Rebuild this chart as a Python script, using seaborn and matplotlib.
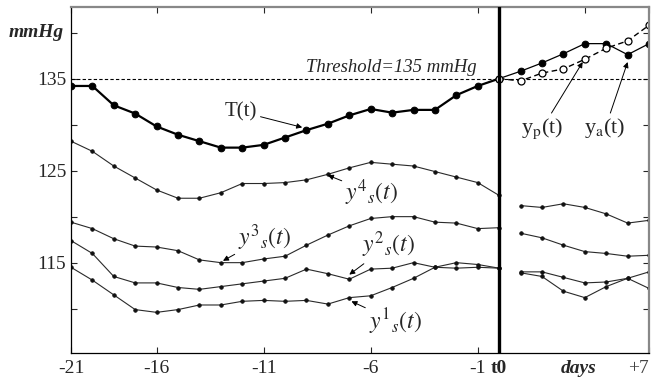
import seaborn as sns
import numpy as np
import matplotlib.pyplot as plt
import pandas as pd

# days: past window ends at t0 (=0), forecast covers days 1..7
days_past = list(range(-20, 1))
days_future = list(range(1, 8))

T_past = [134.2, 134.2, 132.1, 131.2, 129.8, 128.9, 128.2, 127.5, 127.5, 127.8, 128.6,
          129.4, 130.1, 131.0, 131.7, 131.3, 131.6, 131.6, 133.2, 134.2, 135.0]
y_actual = [135.8, 136.7, 137.7, 138.8, 138.8, 137.6, 138.8]
y_pred = [134.75, 135.6, 136.05, 137.1, 138.3, 139.1, 140.8]

y4_past = [128.2, 127.1, 125.5, 124.2, 122.9, 122.0, 122.0, 122.6, 123.6, 123.6, 123.7,
           124.0, 124.6, 125.3, 125.9, 125.7, 125.5, 124.9, 124.3, 123.7, 122.3]
y3_past = [119.4, 118.7, 117.6, 116.8, 116.7, 116.3, 115.3, 115.0, 115.0, 115.4, 115.7,
           116.9, 118.0, 119.0, 119.8, 120.0, 120.0, 119.4, 119.3, 118.7, 118.8]
y2_past = [117.4, 116.0, 113.5, 112.8, 112.8, 112.3, 112.1, 112.4, 112.7, 113.0, 113.3,
           114.3, 113.8, 113.2, 114.3, 114.4, 115.0, 114.5, 115.0, 114.8, 114.4]
y1_past = [114.5, 113.1, 111.5, 109.9, 109.6, 109.9, 110.4, 110.4, 110.8, 110.9, 110.8,
           110.9, 110.5, 111.2, 111.4, 112.3, 113.3, 114.5, 114.4, 114.5, 114.4]

y4_future = [121.2, 121.0, 121.4, 121.0, 120.3, 119.3, 119.6]
y3_future = [118.2, 117.7, 116.9, 116.2, 116.0, 115.7, 115.8]
y2_future = [114.0, 114.0, 113.4, 112.8, 112.9, 113.3, 114.0]
y1_future = [113.9, 113.5, 111.9, 111.2, 112.4, 113.3, 112.2]

threshold = 135
xtick_pos = [-20, -16, -11, -6, -1, 0, 7]
xtick_labels = ["-21", "-16", "-11", "-6", "-1", "t0", "+7"]

sns.set_style("ticks")
plt.rcParams["font.family"] = ["Liberation Serif", "DejaVu Serif"]
plt.rcParams["mathtext.fontset"] = "stix"

fig, ax = plt.subplots(figsize=(6.51, 3.79), dpi=100)
fig.subplots_adjust(left=0.109, right=0.997, bottom=0.069, top=0.982)

# similar-pattern series (thin, small dots)
thin = dict(color="#2a2a2a", lw=0.8, marker="o", markersize=2.6,
            markeredgecolor="#111111", markerfacecolor="#111111", markeredgewidth=0.5)
for past, fut in [(y4_past, y4_future), (y3_past, y3_future),
                  (y2_past, y2_future), (y1_past, y1_future)]:
    sns.lineplot(x=days_past, y=past, ax=ax, **thin)
    sns.lineplot(x=days_future, y=fut, ax=ax, **thin)

# target series
sns.lineplot(x=days_past, y=T_past, ax=ax, color="black", lw=1.6, marker="o",
             markersize=4.8, markeredgecolor="black", markerfacecolor="black")
sns.lineplot(x=[0] + days_future, y=[T_past[-1]] + y_actual, ax=ax, color="black",
             lw=0.9, marker="o", markersize=4.8, markeredgecolor="black",
             markerfacecolor="black")
sns.lineplot(x=[0] + days_future, y=[T_past[-1]] + y_pred, ax=ax, color="black",
             lw=1.0, linestyle=(0, (4, 2.5)), marker="o", markersize=5,
             markeredgecolor="black", markerfacecolor="white", markeredgewidth=0.9)

ax.axhline(threshold, color="black", lw=0.8, linestyle=(0, (3, 2)), zorder=1)
ax.axvline(0, color="black", lw=2.4, zorder=5)

ax.set_xlim(-20, 7)
ax.set_ylim(105.2, 142.8)

ax.set_xticks(xtick_pos)
ax.set_xticklabels(xtick_labels, fontsize=14)
ax.set_xticks([4], minor=True)
ax.set_yticks([115, 125, 135])
ax.set_yticklabels(["115", "125", "135"], fontsize=14)
ax.set_yticks([110, 120, 130, 140], minor=True)
ax.tick_params(which="both", direction="in", top=True, right=True, length=4, width=0.8)
ax.tick_params(axis="x", which="minor", bottom=False, top=True)
ax.tick_params(axis="x", pad=5)
for lab in ax.get_xticklabels():
    if lab.get_text() == "t0":
        lab.set_fontweight("bold")
    if lab.get_text() == "+7":
        lab.set_color("#444444")
        lab.set_horizontalalignment("right")

for side in ["top", "right"]:
    ax.spines[side].set_color("#888888")
    ax.spines[side].set_linewidth(1.6)
for side in ["left", "bottom"]:
    ax.spines[side].set_color("black")
    ax.spines[side].set_linewidth(0.9)

ax.text(-0.012, 140, "mmHg", transform=ax.get_yaxis_transform(), ha="right",
        va="center", fontsize=14, fontweight="bold", style="italic")
ax.text(3.7, -0.045, "days", transform=ax.get_xaxis_transform(), ha="center",
        va="center", fontsize=14, fontweight="bold", style="italic")
ax.text(-1.05, 135.3, "Threshold=135 mmHg", ha="right", va="bottom",
        fontsize=13.5, style="italic")

arrow = dict(arrowstyle="-|>", color="black", lw=0.7, mutation_scale=8,
             shrinkA=0, shrinkB=0)
ax.annotate("T(t)", xy=(-9.2, 129.7), xytext=(-11.3, 131.4), ha="right", va="center",
            fontsize=15, arrowprops=arrow)
ax.annotate(r"$y^4{}_s(t)$", xy=(-8.0, 124.5), xytext=(-7.2, 122.6), ha="left",
            va="center", fontsize=17, arrowprops=arrow)
ax.annotate(r"$y^3{}_s(t)$", xy=(-12.9, 115.2), xytext=(-12.2, 117.7), ha="left",
            va="center", fontsize=17, arrowprops=arrow)
ax.annotate(r"$y^2{}_s(t)$", xy=(-7.0, 113.7), xytext=(-6.4, 116.9), ha="left",
            va="center", fontsize=17, arrowprops=arrow)
ax.annotate(r"$y^1{}_s(t)$", xy=(-6.9, 110.8), xytext=(-6.1, 108.6), ha="left",
            va="center", fontsize=17, arrowprops=arrow)
ax.annotate(r"y$_{\mathrm{p}}$(t)", xy=(3.9, 136.8), xytext=(2.0, 130.9), ha="center",
            va="top", fontsize=16, arrowprops=arrow)
ax.annotate(r"y$_{\mathrm{a}}$(t)", xy=(6.0, 136.8), xytext=(4.95, 130.9), ha="center",
            va="top", fontsize=16, arrowprops=arrow)

fig.savefig("out.png", dpi=100)
